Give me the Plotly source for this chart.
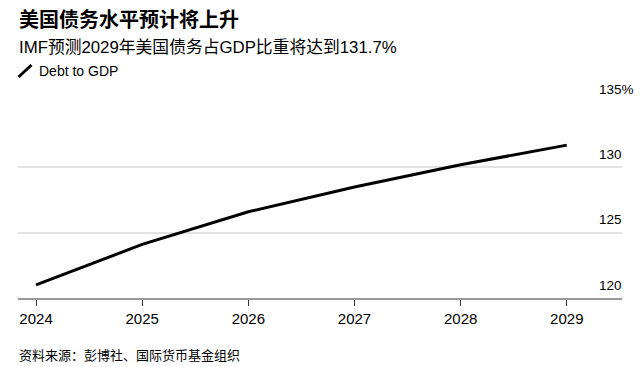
import plotly.graph_objects as go

years = [2024, 2025, 2026, 2027, 2028, 2029]
debt_to_gdp = [121.0, 124.1, 126.6, 128.5, 130.2, 131.7]
y_ticks = [120, 125, 130, 135]
y_tick_labels = ["120", "125", "130", "135%"]
x_tick_labels = ["2024", "2025", "2026", "2027", "2028", "2029"]

title = "美国债务水平预计将上升"
subtitle = "IMF预测2029年美国债务占GDP比重将达到131.7%"
legend_label = "Debt to GDP"
source = "资料来源：彭博社、国际货币基金组织"

FONT = "Liberation Sans, Arial, Noto Sans CJK SC, sans-serif"

W, H = 641, 367
ML, MR, MT, MB = 18, 19, 102, 69
PW = W - ML - MR
PH = H - MT - MB


def px_x(p):
    return (p - ML) / PW


def px_y(p):
    return (H - MB - p) / PH


fig = go.Figure()
fig.add_trace(go.Scatter(
    x=years, y=debt_to_gdp, mode="lines",
    line=dict(color="#000000", width=3),
    showlegend=False, hoverinfo="skip",
))

annotations = [
    dict(text=f"<b>{title}</b>", x=px_x(17), y=px_y(20), xref="paper", yref="paper",
         xanchor="left", yanchor="middle", showarrow=False,
         font=dict(size=20, color="#000000", family=FONT)),
    dict(text=subtitle, x=px_x(17), y=px_y(47), xref="paper", yref="paper",
         xanchor="left", yanchor="middle", showarrow=False,
         font=dict(size=16.8, color="#000000", family=FONT)),
    dict(text=legend_label, x=px_x(37), y=px_y(71), xref="paper", yref="paper",
         xanchor="left", yanchor="middle", showarrow=False,
         font=dict(size=14, color="#000000", family=FONT)),
    dict(text=source, x=px_x(17), y=px_y(355), xref="paper", yref="paper",
         xanchor="left", yanchor="middle", showarrow=False,
         font=dict(size=13, color="#000000", family=FONT)),
]
for v, lab in zip(y_ticks, y_tick_labels):
    annotations.append(dict(
        text=lab, x=px_x(597), y=v, xref="paper", yref="y",
        xanchor="left", yanchor="middle", yshift=13, showarrow=False,
        font=dict(size=13.5, color="#000000", family=FONT)))

shapes = [
    dict(type="line", xref="paper", yref="paper",
         x0=px_x(18.5), y0=px_y(77), x1=px_x(31.5), y1=px_y(65),
         line=dict(color="#000000", width=3)),
]

fig.update_layout(
    width=W, height=H,
    margin=dict(l=ML, r=MR, t=MT, b=MB, pad=0),
    paper_bgcolor="#ffffff", plot_bgcolor="#ffffff",
    font=dict(family=FONT, color="#000000"),
    annotations=annotations, shapes=shapes,
    showlegend=False,
    xaxis=dict(
        range=[2023.83, 2029.52], tickvals=years, ticktext=x_tick_labels,
        showgrid=False, zeroline=False,
        showline=True, linecolor="#999999", linewidth=1.5,
        ticks="outside", ticklen=6, tickwidth=1, tickcolor="#333333",
        tickfont=dict(size=15, color="#000000", family=FONT),
        fixedrange=True,
    ),
    yaxis=dict(
        range=[120, 135], tickvals=y_ticks, showticklabels=False,
        showgrid=True, gridcolor="#e3e3e3", gridwidth=1.5,
        zeroline=False, showline=False, ticks="",
        fixedrange=True,
    ),
)

fig.write_html(
    "out.html",
    config={"displayModeBar": False},
    post_script="document.body.style.margin='0';document.body.style.overflow='hidden';",
)
